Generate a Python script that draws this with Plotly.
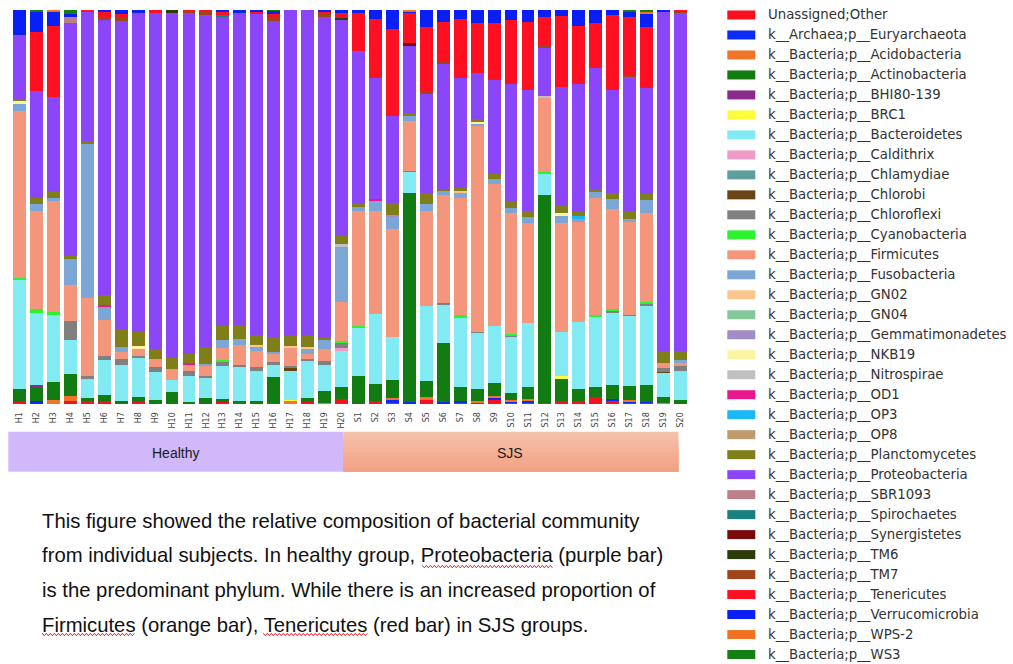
import plotly.graph_objects as go

# ---- samples -------------------------------------------------------------
samples = [f"H{i}" for i in range(1, 21)] + [f"S{i}" for i in range(1, 21)]
groups = ["Healthy", "SJS"]

# ---- relative abundance (%) per phylum, H1..H20 then S1..S20 -------------
unassigned = [0.5, 0, 0, 0.7, 0.7, 0.8, 0, 0.4, 0, 0, 0, 0, 0.4, 0.5, 0, 0.3, 0, 0.4, 0, 1.3,
              0, 0.7, 0.5, 0, 1.1, 0, 0.4, 0.4, 1.1, 0.4, 0.5, 0.3, 0.8, 0.7, 1.7, 0.7, 0.3, 0.3, 0, 0]
euryarchaeota = [0, 0.7, 0, 0, 0, 0, 0, 0, 0, 0, 0, 0, 0, 0, 0, 0, 0, 0, 0, 0,
                 0, 0, 0.4, 0.4, 0, 0.5, 0.4, 0, 0.6, 0.3, 0.3, 0, 0, 0, 0, 0.6, 0.4, 0.3, 0, 0]
acidobacteria = [0, 0, 1.1, 1.3, 0, 0, 0, 0, 0, 0, 0, 0, 0, 0, 0, 0, 0.8, 0, 0.3, 0,
                 0, 0, 0.6, 0, 0.6, 0, 0, 0.3, 0.3, 0.4, 0.4, 0, 0, 0, 0, 0, 0.4, 0, 0.3, 0]
actinobacteria = [3.2, 3.8, 4.6, 5.7, 0.8, 1.4, 0.7, 1.3, 1.1, 3.0, 0.5, 1.5, 0.8, 0.3, 0.7, 6.5, 0, 1.1, 3.1, 3.0,
                  7.2, 4.5, 4.5, 53.2, 4.1, 15.0, 3.4, 3.0, 3.4, 1.7, 3.0, 52.7, 5.5, 3.2, 2.5, 3.6, 3.4, 4.0, 1.5, 1.1]
bhi80_139 = [0, 0.2, 0, 0, 0, 0, 0, 0, 0, 0, 0, 0, 0, 0, 0, 0, 0, 0, 0, 0,
             0, 0, 0, 0, 0, 0, 0, 0, 0, 0, 0, 0, 0, 0, 0, 0, 0, 0.2, 0, 0]
brc1 = [0, 0, 0, 0, 0, 0, 0, 0, 0, 0, 0, 0, 0, 0, 0, 0, 0.3, 0, 0, 0,
        0, 0, 0, 0, 0, 0, 0, 0, 0, 0, 0, 0, 0.7, 0, 0, 0, 0, 0, 0, 0]
bacteroidetes = [27.9, 18.4, 16.9, 8.6, 4.8, 8.9, 9.3, 10.0, 6.9, 3.1, 6.5, 5.1, 8.5, 8.5, 7.6, 3.2, 7.4, 9.5, 6.4, 9.2,
                 12.3, 17.7, 10.9, 5.3, 19.0, 9.7, 17.6, 14.4, 14.4, 14.4, 16.3, 5.5, 11.4, 16.9, 17.8, 18.4, 17.9, 20.3, 6.1, 7.4]
caldithrix = [0, 0, 0, 0, 0, 0, 0, 0, 0, 0, 0, 0, 0, 0, 0, 0, 0, 0, 0, 0.8,
              0, 0, 0, 0, 0, 0, 0, 0, 0, 0, 0, 0, 0, 0, 0, 0, 0, 0, 0, 0]
chlamydiae = [0] * 40
chlorobi = [0, 0, 0, 0, 0, 0, 0, 0, 0, 0, 0, 0, 0, 0, 0, 0, 0.7, 0, 0, 0,
            0, 0, 0, 0, 0, 0, 0, 0, 0, 0, 0, 0, 0, 0, 0, 0, 0, 0, 0.3, 0]
chloroflexi = [0, 0, 0, 4.8, 0.7, 1.0, 1.4, 0.6, 1.3, 0, 1.3, 0.6, 1.0, 0.7, 1.0, 0.7, 0.4, 0.4, 1.2, 1.1,
               0, 0, 0, 0.3, 0, 0.4, 0, 0.3, 0, 0.3, 0, 0, 0, 0, 0, 0.4, 0.3, 0.5, 1.0, 1.1]
cyanobacteria = [0.4, 1.0, 0.8, 0, 0, 0, 0, 0, 0, 0, 0, 0, 0.4, 0, 0, 0, 0, 0, 0, 0.6,
                 0.4, 0, 0, 0, 0, 0, 0.8, 0, 0, 0.3, 0, 0.4, 0, 0, 0.6, 0.3, 0, 0.3, 0, 0]
firmicutes = [42.3, 25.0, 28.1, 9.1, 19.9, 9.3, 1.9, 1.7, 2.1, 2.7, 1.7, 2.4, 3.1, 5.1, 4.1, 2.1, 4.8, 1.4, 3.0, 10.0,
              29.2, 26.0, 27.6, 12.7, 24.3, 27.5, 29.6, 52.2, 36.0, 30.7, 25.5, 19.0, 27.6, 25.3, 29.8, 25.4, 23.6, 22.7, 1.3, 1.0]
fusobacteria = [1.9, 1.6, 0.7, 6.5, 39.3, 3.2, 1.1, 0, 0, 0, 0, 0.6, 2.1, 1.3, 1.1, 0.3, 0, 1.2, 2.3, 14.1,
                1.0, 2.8, 3.1, 1.3, 1.6, 1.0, 1.5, 0.4, 1.3, 1.3, 1.5, 0, 1.7, 1.1, 1.3, 2.6, 0.7, 3.1, 0, 0.5]
gn02 = [0, 0, 0, 0, 0, 0, 0, 0, 0, 0, 0, 0, 0, 0, 0.4, 0, 0.3, 0.5, 0, 0,
        0, 0, 0, 0, 0, 0, 0.3, 0, 0, 0, 0, 0, 0, 0, 0, 0, 0, 0, 0, 0]
gn04 = [0] * 40
gemmatimonadetes = [0, 0, 0, 0, 0, 0, 0, 0, 0, 0, 0, 0, 0, 0, 0, 0, 0, 0, 0, 0,
                    0, 0, 0.4, 0, 0, 0, 0, 0, 0, 0, 0, 0, 0, 0, 0, 0, 0, 0, 0, 0]
nkb19 = [0.6, 0, 0, 0, 0, 0, 0, 0.7, 0, 0, 0, 0, 0, 0, 0, 0, 0, 0, 0, 0,
         0, 0, 0, 0, 0, 0, 0, 0.6, 0, 0, 0, 0, 0.7, 0, 0, 0, 0, 0, 0, 0]
nitrospirae = [0, 0, 0, 0, 0, 0, 0, 0, 0, 0, 0, 0, 0, 0, 0, 0, 0, 0, 0, 0.5,
               0, 0, 0, 0, 0, 0, 0, 0, 0, 0, 0, 0.4, 0, 0, 0, 0, 0, 0, 0, 0]
od1 = [0, 0, 0, 0, 0, 0.6, 0, 0, 0, 0, 0.4, 0, 0, 0, 0, 0, 0, 0, 0, 0,
       0, 0.3, 0, 0, 0, 0, 0, 0, 0, 0, 0, 0, 0, 0, 0, 0, 0, 0, 0, 0]
op3 = [0, 0, 0, 0, 0, 0, 0, 0, 0, 0, 0, 0, 0, 0, 0, 0, 0, 0, 0, 0,
       0, 0, 0, 0, 0, 0, 0, 0, 0, 0, 0, 0, 0, 0.4, 0, 0, 0, 0, 0, 0]
op8 = [0] * 40
planctomycetes = [0.7, 1.8, 1.8, 0.8, 0.4, 2.5, 4.6, 3.6, 2.5, 3.0, 2.4, 4.2, 3.5, 3.4, 2.5, 3.8, 2.7, 3.1, 0.6, 2.0,
                  0.8, 0, 3.0, 0.6, 2.8, 0.3, 0.8, 0.7, 1.4, 1.7, 1.5, 0, 1.9, 1.5, 0.8, 1.6, 2.0, 1.5, 3.0, 2.3]
proteobacteria = [16.2, 27.0, 24.0, 59.2, 32.8, 70.0, 78.3, 81.0, 85.4, 87.5, 86.5, 84.3, 78.6, 79.5, 81.7, 80.2, 82.6, 82.4, 81.2, 54.9,
                  38.6, 30.8, 22.0, 17.3, 25.3, 32.0, 28.0, 11.6, 23.7, 29.8, 30.7, 12.3, 30.1, 32.1, 30.9, 26.2, 34.1, 27.0, 85.9, 86.0]
sbr1093 = [0, 0, 0, 1.5, 0, 0, 0, 0, 0, 0, 0, 0, 0, 0, 0, 0, 0, 0, 0, 0,
           0, 0, 0, 0, 0, 0, 0, 0, 0, 0, 0, 0, 0, 0, 0, 0, 0, 0, 0, 0]
spirochaetes = [0, 0, 0, 0, 0, 0, 0, 0, 0, 0, 0, 0, 0.3, 0, 0, 0, 0, 0, 0, 0,
                0, 0, 0, 0, 0, 0, 0, 0, 0, 0, 0, 0, 0, 0, 0, 0, 0, 0, 0, 0]
synergistetes = [0, 0, 0, 0, 0, 0, 0, 0, 0, 0, 0, 0, 0, 0, 0, 0, 0, 0, 0, 0,
                 0, 0, 0, 0.4, 0, 0, 0, 0, 0, 0, 0, 0, 0, 0, 0, 0, 0, 0, 0, 0]
tm6 = [0, 0, 0, 0, 0, 0, 0, 0, 0, 0.7, 0, 0, 0, 0, 0, 0, 0, 0, 0, 0.4,
       0, 0, 0, 0, 0, 0, 0, 0, 0, 0, 0, 0, 0, 0, 0, 0, 0, 0, 0, 0]
tm7 = [0, 0, 0, 0, 0, 0.5, 0.6, 0, 0, 0, 0.5, 0.7, 0, 0, 0.3, 0.8, 0, 0, 1.2, 0,
       0, 0, 0, 0, 0.3, 0.4, 0, 0, 0, 0, 0, 0.3, 0, 0, 0, 0, 0.4, 0, 0, 0.3]
tenericutes = [0, 15.0, 18.0, 0, 0.6, 1.4, 1.0, 0, 0.7, 0, 0.2, 0.6, 0.7, 0, 0.3, 1.1, 0, 0, 0.3, 1.3,
               9.7, 14.9, 22.1, 7.8, 16.5, 10.1, 14.8, 12.7, 14.4, 16.2, 17.2, 7.2, 18.1, 14.8, 11.2, 18.9, 14.6, 15.6, 0, 0.3]
verrucomicrobia = [6.3, 5.2, 3.6, 0.8, 0, 0.4, 1.1, 0.7, 0, 0, 0, 0, 0.6, 0.7, 0.3, 0.8, 0, 0, 0.4, 0.8,
                   0.8, 2.3, 4.9, 0.4, 4.4, 3.1, 2.4, 3.4, 3.4, 2.5, 3.1, 1.9, 1.5, 4.0, 3.4, 1.3, 1.3, 3.4, 0.6, 0]
wps2 = [0, 0, 0.4, 0, 0, 0, 0, 0, 0, 0, 0, 0, 0, 0, 0, 0, 0, 0, 0, 0,
        0, 0, 0, 0.3, 0, 0, 0, 0, 0, 0, 0, 0, 0, 0, 0, 0, 0, 0.4, 0, 0]
ws3 = [0, 0.3, 0, 1.0, 0, 0, 0, 0, 0, 0, 0, 0, 0, 0, 0, 0.2, 0, 0, 0, 0,
       0, 0, 0, 0, 0, 0, 0, 0, 0, 0, 0, 0, 0, 0, 0, 0, 0.6, 0.4, 0, 0]

# ---- legend labels (stack order bottom -> top) and colours --------------
taxa = [
    "Unassigned;Other", "k__Archaea;p__Euryarchaeota", "k__Bacteria;p__Acidobacteria",
    "k__Bacteria;p__Actinobacteria", "k__Bacteria;p__BHI80-139", "k__Bacteria;p__BRC1",
    "k__Bacteria;p__Bacteroidetes", "k__Bacteria;p__Caldithrix", "k__Bacteria;p__Chlamydiae",
    "k__Bacteria;p__Chlorobi", "k__Bacteria;p__Chloroflexi", "k__Bacteria;p__Cyanobacteria",
    "k__Bacteria;p__Firmicutes", "k__Bacteria;p__Fusobacteria", "k__Bacteria;p__GN02",
    "k__Bacteria;p__GN04", "k__Bacteria;p__Gemmatimonadetes", "k__Bacteria;p__NKB19",
    "k__Bacteria;p__Nitrospirae", "k__Bacteria;p__OD1", "k__Bacteria;p__OP3",
    "k__Bacteria;p__OP8", "k__Bacteria;p__Planctomycetes", "k__Bacteria;p__Proteobacteria",
    "k__Bacteria;p__SBR1093", "k__Bacteria;p__Spirochaetes", "k__Bacteria;p__Synergistetes",
    "k__Bacteria;p__TM6", "k__Bacteria;p__TM7", "k__Bacteria;p__Tenericutes",
    "k__Bacteria;p__Verrucomicrobia", "k__Bacteria;p__WPS-2", "k__Bacteria;p__WS3",
]
colors = [
    "#f8101e", "#0a2cf6", "#f07528", "#127c12", "#8a2a8a", "#fcfc3c",
    "#82eaf2", "#f09ac6", "#5e9e9c", "#6a4414", "#808080", "#2ef22e",
    "#f4967c", "#7ca6d6", "#fcc68e", "#84c89a", "#a08cc6", "#fcf4a0",
    "#c0c0c0", "#e8188c", "#1cb8f6", "#c09a6c", "#807e18", "#8c46fa",
    "#bc808a", "#1a8080", "#7a0a0a", "#2c3c0a", "#a0441a", "#fe1022",
    "#0a1ef6", "#f07222", "#148014",
]
series = [
    unassigned, euryarchaeota, acidobacteria, actinobacteria, bhi80_139, brc1,
    bacteroidetes, caldithrix, chlamydiae, chlorobi, chloroflexi, cyanobacteria,
    firmicutes, fusobacteria, gn02, gn04, gemmatimonadetes, nkb19,
    nitrospirae, od1, op3, op8, planctomycetes, proteobacteria,
    sbr1093, spirochaetes, synergistetes, tm6, tm7, tenericutes,
    verrucomicrobia, wps2, ws3,
]

caption_lines = [
    "This figure showed the relative composition of bacterial community",
    "from individual subjects. In healthy group, Proteobacteria (purple bar)",
    "is the predominant phylum. While there is an increased proportion of",
    "Firmicutes (orange bar), Tenericutes (red bar) in SJS groups.",
]

# ---- page geometry (pixels) ----------------------------------------------
W, H = 1013, 664
PL, PR, PT, PB = 10.7, 688.7, 10.0, 404.3


def fx(px):
    return (px - PL) / (PR - PL)


def fy(py):
    return (PB - py) / (PB - PT)


fig = go.Figure()
for name, col, vals in zip(taxa, colors, series):
    fig.add_trace(go.Bar(
        x=samples, y=vals, name=name, width=0.76,
        marker=dict(color=col, line=dict(width=0)),
        showlegend=False,
    ))

shapes = []
annotations = []

# group band under the sample labels
band_top, band_bot = 432, 472
shapes.append(dict(type="rect", xref="paper", yref="paper", layer="below",
                   x0=fx(8), x1=fx(343), y0=fy(band_bot), y1=fy(band_top),
                   fillcolor="#d0b8fb", line=dict(width=0)))
# SJS block: vertical gradient built from overlapping strips, drawn top to bottom
n_strips = 10
c0, c1 = (245, 192, 170), (242, 162, 132)
for k in range(n_strips):
    t = k / (n_strips - 1)
    c = tuple(round(a + (b - a) * t) for a, b in zip(c0, c1))
    ya = band_top + (band_bot - band_top) * k / n_strips
    shapes.append(dict(type="rect", xref="paper", yref="paper", layer="below",
                       x0=fx(343), x1=fx(678), y0=fy(band_bot), y1=fy(ya),
                       fillcolor="rgb(%d,%d,%d)" % c, line=dict(width=0)))
for label, cx in zip(groups, [175, 510]):
    annotations.append(dict(text=label, xref="paper", yref="paper", x=fx(cx), y=fy(453),
                            xanchor="center", yanchor="middle", showarrow=False,
                            font=dict(family="Liberation Sans, Arial", size=14, color="#1a1a1a")))

# caption paragraph
for i, line in enumerate(caption_lines):
    annotations.append(dict(text=line, xref="paper", yref="paper", x=fx(40), y=fy(521 + 34.8 * i),
                            xanchor="left", yanchor="middle", showarrow=False,
                            font=dict(family="Liberation Sans, Arial", size=20.3, color="#111111")))


# spell-check style wavy underlines
def wavy(x0, x1, y, amp=1.3, step=2.0):
    pts = []
    x = x0
    k = 0
    while x <= x1:
        yy = y + (amp if k % 2 else -amp)
        pts.append("%.5f,%.5f" % (fx(x), fy(yy)))
        x += step
        k += 1
    return "M " + " L ".join(pts)


for x0, x1, y in [(422, 553, 567), (42, 135, 635), (263, 367, 635)]:
    shapes.append(dict(type="path", xref="paper", yref="paper", path=wavy(x0, x1, y),
                       line=dict(color="#e8242c", width=1)))

# legend column
for i, (name, col) in enumerate(zip(taxa, colors)):
    cy = 15 + 20 * i
    shapes.append(dict(type="rect", xref="paper", yref="paper",
                       x0=fx(727), x1=fx(755), y0=fy(cy + 4.5), y1=fy(cy - 4.5),
                       fillcolor=col, line=dict(width=0)))
    annotations.append(dict(text=name, xref="paper", yref="paper", x=fx(766), y=fy(cy),
                            xanchor="left", yanchor="middle", showarrow=False,
                            font=dict(family="DejaVu Sans", size=13.3, color="#333333")))

fig.update_layout(
    width=W, height=H, autosize=False,
    margin=dict(l=PL, r=W - PR, t=PT, b=H - PB, pad=0),
    paper_bgcolor="white", plot_bgcolor="white",
    barmode="stack",
    xaxis=dict(range=[-0.5, 39.5], tickangle=-90, showgrid=False, showline=False,
               zeroline=False, ticks="outside", ticklen=4, tickcolor="rgba(0,0,0,0)",
               tickfont=dict(family="DejaVu Sans", size=8, color="#444444"),
               fixedrange=True),
    yaxis=dict(range=[0, 100], visible=False, fixedrange=True),
    shapes=shapes,
    annotations=annotations,
)

fig.write_html("out.html")
